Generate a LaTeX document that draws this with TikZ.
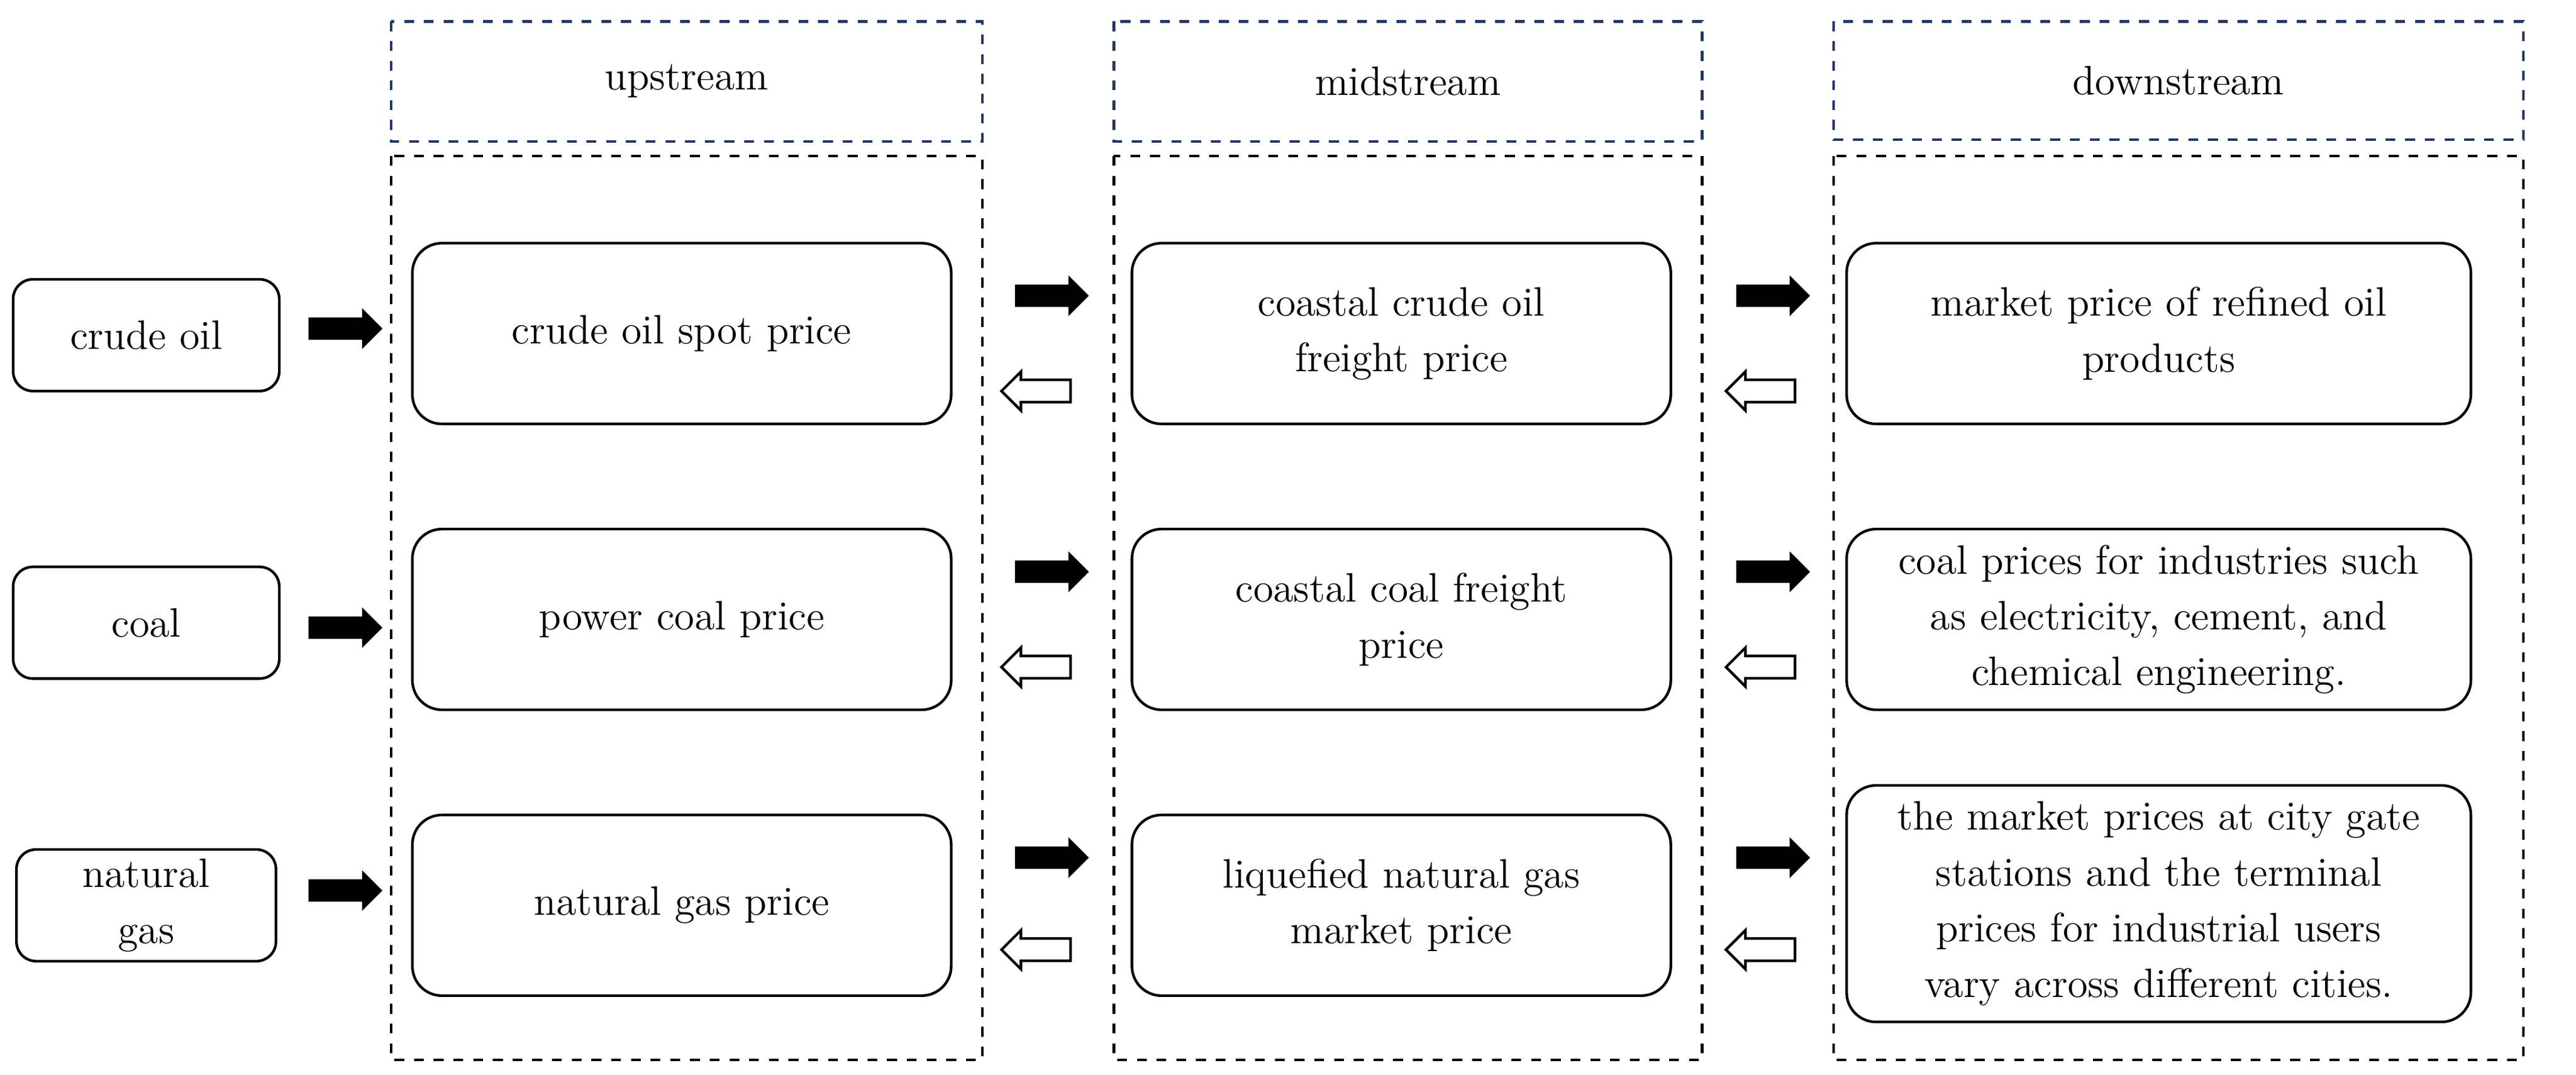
\documentclass[tikz,border=0pt]{standalone}
\usetikzlibrary{shapes.arrows}
\definecolor{headblue}{RGB}{31,56,100}
\tikzset{
  src/.style={draw,thick,rounded corners=6pt,align=center,inner sep=2pt},
  item/.style={draw,thick,rounded corners=9pt,align=center,text width=160pt,inner sep=2pt},
  head/.style={draw=headblue,thick,dashed},
  col/.style={draw,thick,dashed},
  fwd/.style={single arrow,draw,fill=black,minimum height=22pt,single arrow head extend=2.5pt,inner sep=3pt},
  bwd/.style={single arrow,draw,thick,fill=white,shape border rotate=180,minimum height=21pt,single arrow head extend=2.5pt,inner sep=3pt}
}
\begin{document}
\begin{tikzpicture}[x=0.5pt,y=-0.5pt,font=\fontsize{12.5}{17}\selectfont]
\useasboundingbox (0,0) rectangle (1568,654);

% Headers and columns
\draw[head] (238,13) rectangle (598,86) node[midway] (hup) {upstream};
\draw[head] (678,13) rectangle (1036,86) node[midway] (hmid) {midstream};
\draw[head] (1116,13) rectangle (1536,85) node[midway] (hdown) {downstream};
\draw[col] (238,95) rectangle (598,645);
\draw[col] (678,95) rectangle (1036,645);
\draw[col] (1116,95) rectangle (1536,645);

% Sources
\node[src,minimum width=81pt,minimum height=34pt] (oil) at (89,204) {crude oil};
\node[src,minimum width=81pt,minimum height=34pt] (coal) at (89,379) {coal};
\node[src,minimum width=79pt,minimum height=34pt] (gas) at (89,551) {natural\\gas};

% Upstream
\node[item,minimum height=55pt] (u1) at (415,203) {crude oil spot price};
\node[item,minimum height=55pt] (u2) at (415,377) {power coal price};
\node[item,minimum height=55pt] (u3) at (415,551) {natural gas price};

% Midstream
\node[item,minimum height=55pt] (m1) at (853,203) {coastal crude oil\\freight price};
\node[item,minimum height=55pt] (m2) at (853,377) {coastal coal freight\\price};
\node[item,minimum height=55pt] (m3) at (853,551) {liquefied natural gas\\market price};

% Downstream
\node[item,text width=186pt,minimum height=55pt] (d1) at (1314,203) {market price of refined oil\\products};
\node[item,text width=186pt,minimum height=55pt] (d2) at (1314,377) {coal prices for industries such\\as electricity, cement, and\\chemical engineering.};
\node[item,text width=186pt,minimum height=72pt] (d3) at (1314,550) {the market prices at city gate\\stations and the terminal\\prices for industrial users\\vary across different cities.};

% Arrows in
\node[fwd] (ai1) at (207,200) {};
\node[fwd] (ai2) at (207,382) {};
\node[fwd] (ai3) at (207,542) {};

% Arrows between
\foreach \y/\n in {180/1,348/2,522/3}{
  \node[fwd] (fa\n) at (637,\y) {};
  \node[fwd] (fb\n) at (1076,\y) {};
}
\foreach \y/\n in {238/1,406/2,578/3}{
  \node[bwd] (ba\n) at (634,\y) {};
  \node[bwd] (bb\n) at (1075,\y) {};
}
\end{tikzpicture}
\end{document}
